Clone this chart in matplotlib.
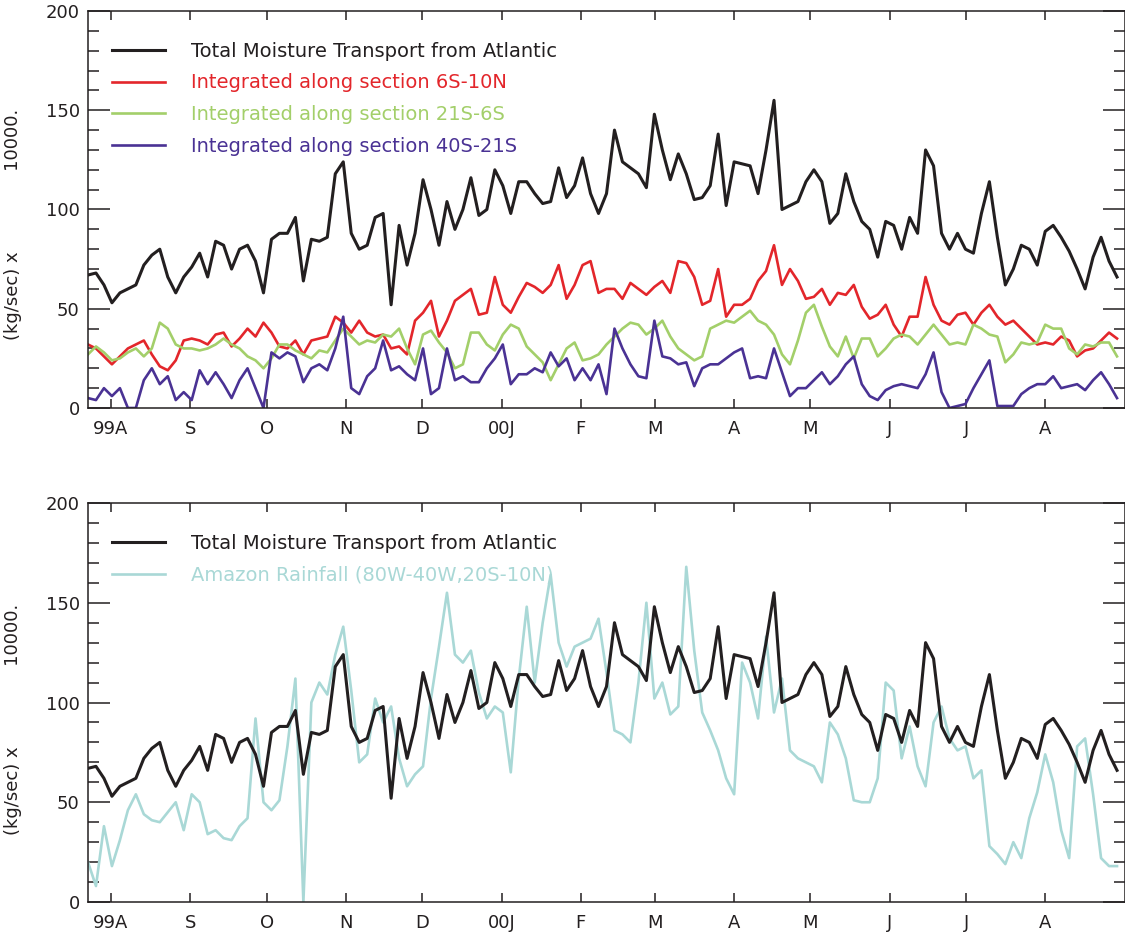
import pandas as pd
import matplotlib
matplotlib.use("Agg")
import matplotlib.pyplot as plt
import matplotlib.dates as mdates
from matplotlib.ticker import MultipleLocator

# samples every 75 hours
dates = pd.date_range("1999-07-23", periods=130, freq="75h")

total_atlantic = [67, 68, 62, 53, 58, 60, 62, 72, 77, 80, 66, 58, 66, 71, 78, 66, 84, 82, 70, 80, 82, 74,
                  58, 85, 88, 88, 96, 64, 85, 84, 86, 118, 124, 88, 80, 82, 96, 98, 52, 92, 72, 88, 115, 100,
                  82, 104, 90, 100, 116, 97, 100, 120, 112, 98, 114, 114, 108, 103, 104, 121, 106, 112, 126, 108, 98,
                  108, 140, 124, 121, 118, 111, 148, 130, 115, 128, 118, 105, 106, 112, 138, 102, 124, 123, 122, 108, 130, 155,
                  100, 102, 104, 114, 120, 114, 93, 98, 118, 104, 94, 90, 76, 94, 92, 80, 96, 88, 130, 122, 88,
                  80, 88, 80, 78, 98, 114, 86, 62, 70, 82, 80, 72, 89, 92, 86, 79, 70, 60, 76, 86, 74, 66]

sec_6s_10n = [32, 30, 26, 22, 26, 30, 32, 34, 27, 21, 19, 24, 34, 35, 34, 32, 37, 38, 31, 35, 40, 36,
              43, 38, 31, 30, 34, 27, 34, 35, 36, 46, 43, 38, 44, 38, 36, 37, 30, 31, 27, 44, 48, 54,
              36, 44, 54, 57, 60, 47, 48, 66, 52, 48, 56, 63, 61, 58, 62, 72, 55, 62, 72, 74, 58,
              60, 60, 55, 63, 60, 57, 61, 64, 58, 74, 73, 66, 52, 54, 70, 46, 52, 52, 55, 64, 69, 82,
              62, 70, 64, 55, 56, 60, 52, 58, 57, 62, 51, 45, 47, 52, 42, 36, 46, 46, 66, 52, 44,
              42, 47, 48, 42, 48, 52, 46, 42, 44, 40, 36, 32, 33, 32, 36, 34, 26, 29, 30, 34, 38, 35]

sec_21s_6s = [27, 31, 28, 24, 25, 28, 30, 26, 30, 43, 40, 32, 30, 30, 29, 30, 32, 35, 32, 30, 26, 24,
              20, 25, 32, 32, 29, 27, 25, 29, 28, 34, 40, 36, 32, 34, 33, 37, 36, 40, 30, 22, 37, 39,
              33, 28, 20, 22, 38, 38, 32, 29, 37, 42, 40, 31, 27, 23, 14, 22, 30, 33, 24, 25, 27,
              32, 36, 40, 43, 42, 37, 40, 44, 36, 30, 27, 24, 26, 40, 42, 44, 43, 46, 49, 44, 42, 37,
              27, 22, 34, 48, 52, 41, 31, 26, 36, 25, 35, 35, 26, 30, 35, 37, 36, 32, 37, 42, 37,
              32, 33, 32, 42, 40, 37, 36, 23, 27, 33, 32, 33, 42, 40, 40, 30, 27, 32, 31, 33, 33, 26]

sec_40s_21s = [5, 4, 10, 6, 10, 0, 0, 14, 20, 12, 16, 4, 8, 4, 19, 12, 18, 12, 5, 14, 20, 10,
               0, 28, 25, 28, 26, 13, 20, 22, 19, 30, 46, 10, 7, 16, 20, 34, 19, 21, 17, 14, 30, 7,
               10, 30, 14, 16, 13, 13, 20, 25, 32, 12, 17, 17, 20, 18, 28, 21, 25, 14, 20, 14, 22,
               7, 40, 30, 22, 16, 15, 44, 26, 25, 22, 23, 11, 20, 22, 22, 25, 28, 30, 15, 16, 15, 30,
               18, 6, 10, 10, 14, 18, 12, 16, 22, 26, 12, 6, 4, 9, 11, 12, 11, 10, 17, 28, 8,
               0, 1, 2, 10, 17, 24, 1, 1, 1, 7, 10, 12, 12, 16, 10, 11, 12, 9, 14, 18, 12, 5]

amazon_rain = [20, 8, 38, 18, 31, 46, 54, 44, 41, 40, 45, 50, 36, 54, 50, 34, 36, 32, 31, 38, 42, 92,
               50, 46, 51, 78, 112, 0, 100, 110, 104, 124, 138, 106, 70, 74, 102, 90, 98, 72, 58, 64, 68, 102,
               128, 155, 124, 120, 126, 105, 92, 98, 95, 65, 112, 148, 110, 140, 164, 130, 118, 128, 130, 132, 142,
               115, 86, 84, 80, 110, 150, 102, 110, 94, 98, 168, 126, 95, 86, 76, 62, 54, 120, 110, 92, 133, 95,
               112, 76, 72, 70, 68, 60, 90, 84, 72, 51, 50, 50, 62, 110, 106, 72, 88, 68, 58, 90, 98,
               82, 76, 78, 62, 66, 28, 24, 19, 30, 22, 42, 55, 74, 60, 36, 22, 78, 82, 54, 22, 18, 18]

month_ticks = pd.date_range("1999-08-01", "2000-08-01", freq="MS")
month_labels = ["99A", "S", "O", "N", "D", "00J", "F", "M", "A", "M", "J", "J", "A"]

dark = "#231f20"
red = "#e3262b"
green = "#a3cf6a"
purple = "#4a3294"
cyan = "#a9d8d6"

plt.rcParams["font.family"] = "DejaVu Sans"
plt.rcParams["font.size"] = 13

x = mdates.date2num(dates.to_pydatetime())
xt = mdates.date2num(month_ticks.to_pydatetime())
x0 = mdates.date2num(pd.Timestamp("1999-07-23").to_pydatetime())
x1 = mdates.date2num(pd.Timestamp("2000-09-01 06:00").to_pydatetime())

fig = plt.figure(figsize=(11.25, 9.35), dpi=100)
ax1 = fig.add_axes([88 / 1125, 1 - 408 / 935, 1037 / 1125, 397 / 935])
ax2 = fig.add_axes([88 / 1125, 1 - 902 / 935, 1037 / 1125, 399 / 935])

ylabel = "(kg/sec) x" + " " * 14 + "10000."


def style(ax):
    ax.set_xlim(x0, x1)
    ax.set_ylim(0, 200)
    ax.set_xticks(xt)
    ax.set_xticklabels(month_labels)
    ax.yaxis.set_major_locator(MultipleLocator(50))
    ax.yaxis.set_minor_locator(MultipleLocator(10))
    ax.tick_params(axis="x", direction="in", top=True, bottom=True, length=6.5, width=1.1,
                   pad=9, colors=dark, labelsize=13)
    ax.tick_params(axis="y", which="major", direction="in", left=True, right=True, length=16,
                   width=1.1, pad=6, colors=dark, labelsize=13)
    ax.tick_params(axis="y", which="minor", direction="in", left=True, right=True, length=8,
                   width=1.1, colors=dark)
    for s in ax.spines.values():
        s.set_color(dark)
        s.set_linewidth(1.1)
    ax.set_ylabel(ylabel, color=dark, fontsize=13)


leg_kw = dict(loc="upper left", frameon=False, borderpad=0, borderaxespad=0, handlelength=2.75,
              handletextpad=1.3, labelspacing=0.66, labelcolor="linecolor", fontsize=14)

# top panel
ax1.plot(x, total_atlantic, color=dark, lw=2.2, label="Total Moisture Transport from Atlantic")
ax1.plot(x, sec_6s_10n, color=red, lw=1.9, label="Integrated along section 6S-10N")
ax1.plot(x, sec_21s_6s, color=green, lw=1.9, label="Integrated along section 21S-6S")
ax1.plot(x, sec_40s_21s, color=purple, lw=1.9, label="Integrated along section 40S-21S")
style(ax1)
ax1.yaxis.set_label_coords(-0.064, 0.463)
ax1.legend(bbox_to_anchor=(0.023, 0.923), **leg_kw)

# bottom panel
ax2.plot(x, amazon_rain, color=cyan, lw=1.9, zorder=2)
ax2.plot(x, total_atlantic, color=dark, lw=2.2, zorder=3)
style(ax2)
ax2.yaxis.set_label_coords(-0.064, 0.458)
h_tot, = ax2.plot([], [], color=dark, lw=2.2, label="Total Moisture Transport from Atlantic")
h_rain, = ax2.plot([], [], color=cyan, lw=1.9, label="Amazon Rainfall (80W-40W,20S-10N)")
ax2.legend(handles=[h_tot, h_rain], bbox_to_anchor=(0.023, 0.922), **leg_kw)

fig.savefig("out.png", dpi=100)
